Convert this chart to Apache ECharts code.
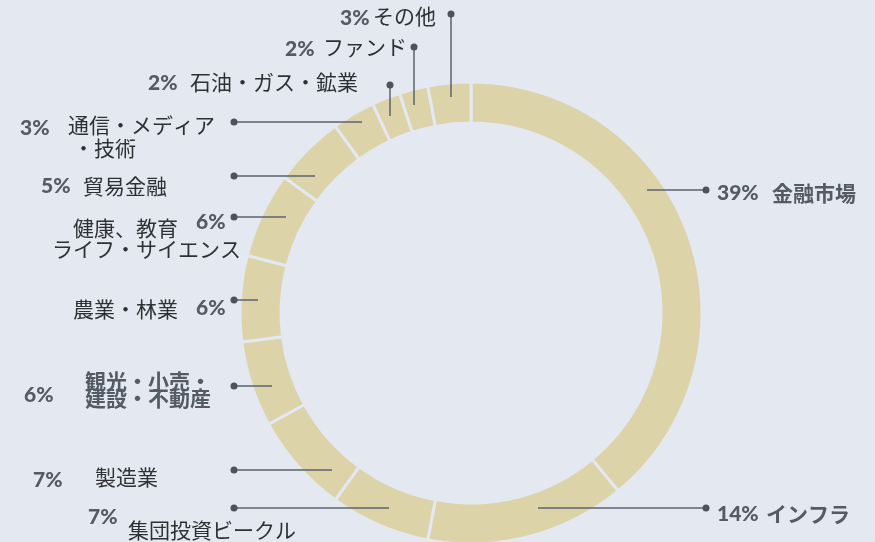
<!DOCTYPE html>
<html>
<head>
<meta charset="utf-8">
<script src="https://cdn.jsdelivr.net/npm/echarts@6/dist/echarts.min.js"></script>
<style>
  html, body { margin: 0; padding: 0; background: #e3e8f1; }
  #chart { width: 875px; height: 542px; }
</style>
</head>
<body>
<div id="chart"></div>
<script>
// sectors, clockwise from the top
const sectors = [
    '金融市場', 'インフラ', '集団投資ビークル', '製造業',
    '観光・小売・\n建設・不動産', '農業・林業', '健康、教育\nライフ・サイエンス', '貿易金融',
    '通信・メディア\n・技術', '石油・ガス・鉱業', 'ファンド', 'その他'
];
const shares = [39, 14, 7, 7, 6, 6, 6, 5, 3, 2, 2, 3];

// where each label sits: dot, leader direction + length, percent and name line anchors
const spots = [
    { dot: [706, 190], dir: 'left', len: 59, pct: [717, 193], name: [[772, 193]], dim: true },
    { dot: [706, 508], dir: 'left', len: 168, pct: [717, 514], name: [[766, 514]], dim: true },
    { dot: [234, 508], dir: 'right', len: 155, pct: [88, 517], name: [[128, 530]] },
    { dot: [234, 470], dir: 'right', len: 98, pct: [33, 480], name: [[95, 477]] },
    { dot: [234, 386], dir: 'right', len: 38, pct: [24, 395], name: [[85, 381], [85, 398]], dim: true },
    { dot: [234, 300], dir: 'right', len: 24, pct: [196, 308], name: [[73, 309]] },
    { dot: [234, 217], dir: 'right', len: 52, pct: [196, 222], name: [[73, 228], [52, 249]] },
    { dot: [234, 176], dir: 'right', len: 81, pct: [41, 186], name: [[83, 186]] },
    { dot: [234, 122], dir: 'right', len: 128, pct: [20, 128], name: [[68, 125], [73, 148]] },
    { dot: [390, 85], dir: 'down', len: 31, pct: [148, 83], name: [[190, 82]] },
    { dot: [414, 47], dir: 'down', len: 58, pct: [285, 49], name: [[323, 47]] },
    { dot: [451, 14], dir: 'down', len: 83, pct: [340, 18], name: [[373, 16]] }
];

const BG = '#e3e8f1';
const SLICE = '#ddd3a9';
const INK = '#535b65';

function buildLabels() {
    const out = [];
    spots.forEach((s, i) => {
        const [x, y] = s.dot;
        let end;
        if (s.dir === 'left') end = [x - s.len, y];
        else if (s.dir === 'right') end = [x + s.len, y];
        else end = [x, y + s.len];

        out.push({
            type: 'line', silent: true, z: 10,
            shape: { x1: x, y1: y, x2: end[0], y2: end[1] },
            style: { stroke: '#5b636d', lineWidth: 1.5 }
        });
        out.push({
            type: 'circle', silent: true, z: 11,
            shape: { cx: x, cy: y, r: 3.5 },
            style: { fill: '#4b535d' }
        });
        out.push({
            type: 'text', silent: true, z: 11,
            x: s.pct[0], y: s.pct[1],
            style: {
                text: shares[i] + '%',
                fill: INK,
                font: '900 21px Lato, "Noto Sans", sans-serif',
                verticalAlign: 'middle', align: 'left'
            }
        });
        sectors[i].split('\n').forEach((line, k) => {
            const p = s.name[k];
            out.push({
                type: 'text', silent: true, z: 11,
                x: p[0], y: p[1],
                style: {
                    text: line,
                    fill: s.dim ? INK : '#2f3033',
                    font: (s.dim ? 'bold ' : '') + '21px "Noto Sans CJK JP", sans-serif',
                    verticalAlign: 'middle', align: 'left'
                }
            });
        });
    });
    return out;
}

const chart = echarts.init(document.getElementById('chart'), null, { renderer: 'canvas' });

const option = {
    backgroundColor: BG,
    animation: false,
    series: [
        {
            type: 'pie',
            center: [471, 313],
            radius: [190, 231],
            startAngle: 90,
            clockwise: true,
            silent: true,
            label: { show: false },
            labelLine: { show: false },
            itemStyle: {
                color: SLICE,
                borderColor: BG,
                borderWidth: 3
            },
            data: sectors.map((name, i) => ({ name: name, value: shares[i] }))
        }
    ],
    graphic: buildLabels()
};

chart.setOption(option);
</script>
</body>
</html>
